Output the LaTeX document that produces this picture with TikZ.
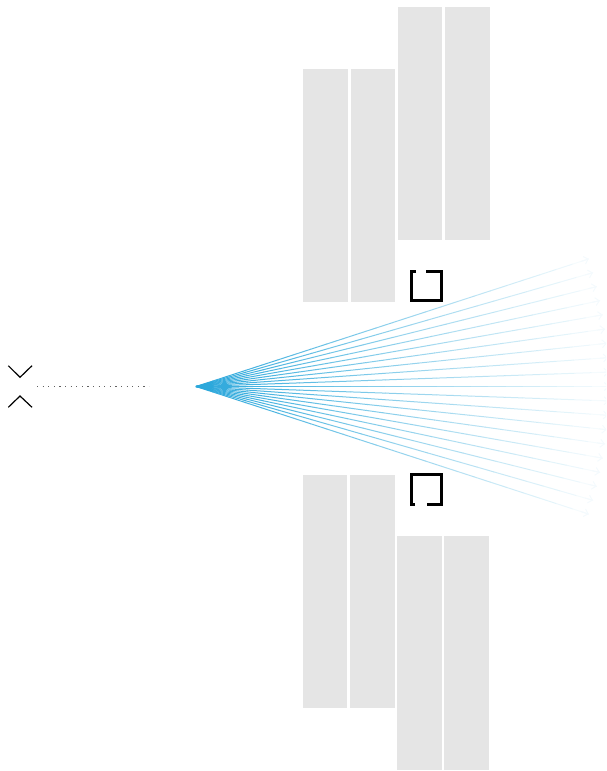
\documentclass[tikz,border=0pt]{standalone}
\usepackage{xcolor}
\definecolor{fanblue}{HTML}{1AA0D8}
\definecolor{panel}{HTML}{E5E5E5}
\definecolor{dotgray}{HTML}{606060}
\usetikzlibrary{arrows.meta, calc}

\begin{document}
\begin{tikzpicture}[x=1pt, y=-1pt,
  slab/.style={fill=panel, draw=none, inner sep=0pt, minimum width=44.5pt, minimum height=233.3pt, anchor=north west},
  chev/.style={line width=1.2pt},
  brk/.style={line width=3pt},
  ray/.style={line width=1pt}]
  \useasboundingbox (0,0) rectangle (606,771);
  \clip (0,0) rectangle (606,771);
  % panels above the beam
  \node[slab] (ua) at (303,68.3) {};
  \node[slab] (ub) at (350.5,68.3) {};
  \node[slab] (uc) at (397.5,6.7) {};
  \node[slab] (ud) at (444.8,6.7) {};
  % panels below the beam
  \node[slab] (la) at (302.3,474.3) {};
  \node[slab] (lb) at (349.8,474.3) {};
  \node[slab] (lc) at (396.8,536) {};
  \node[slab] (ld) at (444,536) {};
  % brackets
  \draw[brk] (416,271.5) -| (411.5,300.2) -| (441.5,271.5) -- (426,271.5);
  \draw[brk] (415,504.5) -| (411.5,474.8) -| (441,504.5) -- (426.7,504.5);
  % chevrons and dotted lead
  \draw[chev] (8.3,365.7) -- (20,377.3) -- (32,365.7);
  \draw[chev] (8.3,407.3) -- (20,396) -- (32,407.3);
  \coordinate (dl) at (37,386.7);
  \coordinate (dr) at (149,386.7);
  \draw[dotgray, line width=1.2pt, dash pattern=on 1.2pt off 4.4pt] (dl) -- (dr);
  % fan of rays
  \coordinate (src) at (196,386.5);
  \foreach \a in {-18,-16,...,18}{
    \foreach \k in {0,...,23}{
      \pgfmathsetmacro{\pct}{92-3.8*\k}
      \draw[ray, fanblue!\pct!white] ($(src)+(\a:{\k*17.2})$) -- ($(src)+(\a:{(\k+1)*17.2+0.4})$);
    }
    \draw[ray, fanblue!5!white, -{Straight Barb[length=4pt, width=8pt]}] ($(src)+(\a:405)$) -- ($(src)+(\a:413)$);
  }
\end{tikzpicture}
\end{document}
